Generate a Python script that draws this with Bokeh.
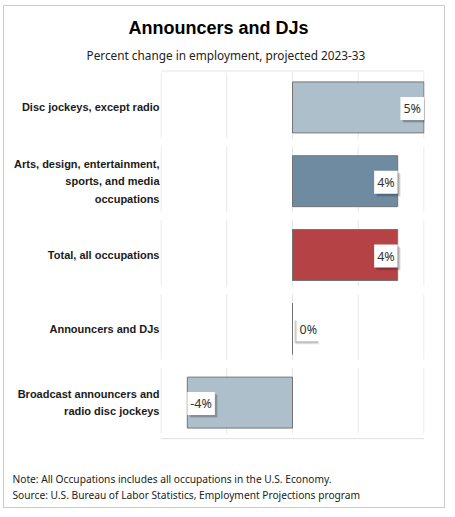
from bokeh.plotting import figure
from bokeh.models import ColumnDataSource, FactorRange, Range1d, Title
from bokeh.core.properties import value
from bokeh.embed import file_html
from bokeh.resources import INLINE

# data, top row first
occupations = [
    "Disc jockeys, except radio",
    "Arts, design, entertainment,\nsports, and media\noccupations",
    "Total, all occupations",
    "Announcers and DJs",
    "Broadcast announcers and\nradio disc jockeys",
]
pct_change = [5.0, 4.0, 4.0, 0.0, -4.0]
bar_colors = ["#adbfca", "#6f8ba2", "#b54244", "#adbfca", "#adbfca"]
grid_ticks = [-5, -2.5, 0, 2.5, 5]

title = "Announcers and DJs"
subtitle = "Percent change in employment, projected 2023-33"
note = "Note: All Occupations includes all occupations in the U.S. Economy."
source_txt = "Source: U.S. Bureau of Labor Statistics, Employment Projections program"

labels = [f"{v:.0f}%" for v in pct_change]
aligns = ["right" if v > 0 else "left" for v in pct_change]
offsets = [4 if v == 0 else 0 for v in pct_change]

src = ColumnDataSource(dict(occ=occupations, pct=pct_change, color=bar_colors,
                            label=labels, align=aligns, xoff=offsets))

p = figure(width=442, height=503, output_backend="svg", toolbar_location=None,
           title=None, x_axis_location=None,
           y_range=FactorRange(factors=occupations[::-1]),
           x_range=Range1d(-5.02, 5.02),
           min_border_left=156, min_border_top=64, min_border_right=22,
           min_border_bottom=70,
           styles={"border": "1px solid #cccccc", "margin-left": "3px",
                   "margin-top": "5px"})
p.outline_line_color = None
p.xgrid.visible = False
p.ygrid.visible = False

# broken vertical grid lines, one piece per row
gx, gy0, gy1 = [], [], []
for occ in occupations:
    for t in grid_ticks:
        gx.append(t)
        gy0.append((occ, 0.47))
        gy1.append((occ, -0.42))
p.segment(x0=gx, x1=gx, y0=gy0, y1=gy1, line_color="#e6e6e6", line_width=1)
p.segment(x0=[grid_ticks[0]] * 2, x1=[grid_ticks[-1]] * 2,
          y0=[(occupations[0], 0.495), (occupations[-1], -0.49)],
          y1=[(occupations[0], 0.495), (occupations[-1], -0.49)],
          line_color="#dadada", line_width=1)

p.hbar(y="occ", left=0, right="pct", height=0.69, fill_color="color",
       line_color="#737373", line_width=1, source=src)
p.segment(x0=0, x1=0, y0=[(o, -0.345) for o in occupations],
          y1=[(o, 0.345) for o in occupations], line_color="#737373")

# label boxes with a soft shadow
for dx, alpha in [(3, 0.10), (2, 0.16)]:
    p.text(x="pct", y="occ", text="label", source=src, text_align="align",
           text_baseline="middle", x_offset=dx, y_offset=dx + 1,
           text_font=value("Noto Sans"), text_font_size="12.5px", text_alpha=0,
           padding=3, background_fill_color="#000000",
           background_fill_alpha=alpha)
p.text(x="pct", y="occ", text="label", source=src, text_align="align",
       text_baseline="middle", x_offset="xoff", y_offset=1,
       text_font=value("Noto Sans"), text_font_size="12.5px",
       text_color="#333333", padding=3, background_fill_color="#ffffff")

ax = p.yaxis[0]
ax.axis_line_color = None
ax.major_tick_line_color = None
ax.minor_tick_line_color = None
ax.major_tick_out = 0
ax.major_tick_in = 0
ax.major_label_standoff = 1
ax.major_label_text_font = "Liberation Sans"
ax.major_label_text_font_style = "bold"
ax.major_label_text_font_size = "11px"
ax.major_label_text_color = "#1a1a1a"
ax.major_label_text_line_height = 1.45

# titles above (nearest first)
p.add_layout(Title(text=subtitle, align="left", offset=-74, standoff=15,
                   text_font="Noto Sans", text_font_size="11.8px",
                   text_font_style="normal", text_color="#222222"), "above")
p.add_layout(Title(text=title, align="left", offset=-32, standoff=0,
                   text_font="Liberation Sans", text_font_size="18px",
                   text_font_style="bold", text_color="#000000"), "above")

# footnotes below, after a blank gap
p.add_layout(Title(text=" ", text_font_size="1px", standoff=27), "below")
for txt in [note, source_txt]:
    p.add_layout(Title(text=txt, align="left", offset=-148, standoff=0,
                       text_font="Noto Sans", text_font_size="10.2px",
                       text_font_style="normal", text_color="#222222"), "below")

open("out.html", "w").write(file_html(p, INLINE))
